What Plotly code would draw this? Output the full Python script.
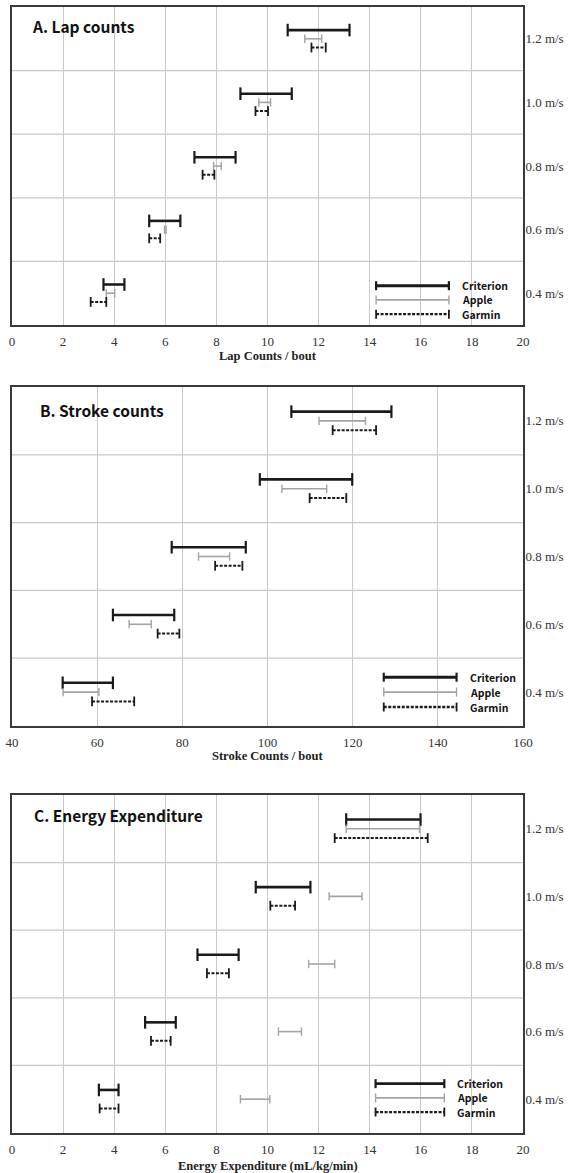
import plotly.graph_objects as go

# ---------------- data ----------------
speeds = ["0.4 m/s", "0.6 m/s", "0.8 m/s", "1.0 m/s", "1.2 m/s"]
series_names = ["Criterion", "Apple", "Garmin"]

# A. Lap counts (low / high ends of each range)
lap_criterion_low = [3.58, 5.37, 7.14, 8.94, 10.79]
lap_criterion_high = [4.40, 6.59, 8.75, 10.95, 13.21]
lap_apple_low = [3.69, 5.97, 7.89, 9.66, 11.46]
lap_apple_high = [4.02, 6.03, 8.19, 10.12, 12.12]
lap_garmin_low = [3.08, 5.37, 7.46, 9.53, 11.72]
lap_garmin_high = [3.69, 5.80, 7.92, 10.02, 12.28]

# B. Stroke counts
stroke_criterion_low = [51.9, 63.7, 77.5, 98.2, 105.6]
stroke_criterion_high = [63.7, 78.1, 94.9, 119.9, 129.1]
stroke_apple_low = [52.0, 67.5, 83.8, 103.4, 112.1]
stroke_apple_high = [60.4, 72.7, 91.1, 113.9, 123.0]
stroke_garmin_low = [58.8, 74.2, 87.7, 109.9, 115.3]
stroke_garmin_high = [68.7, 79.3, 94.1, 118.5, 125.5]

# C. Energy expenditure
ee_criterion_low = [3.40, 5.21, 7.26, 9.54, 13.08]
ee_criterion_high = [4.17, 6.41, 8.87, 11.68, 15.99]
ee_apple_low = [8.94, 10.43, 11.61, 12.41, 13.08]
ee_apple_high = [10.09, 11.33, 12.63, 13.70, 15.95]
ee_garmin_low = [3.43, 5.44, 7.63, 10.11, 12.63]
ee_garmin_high = [4.17, 6.21, 8.49, 11.08, 16.27]

panel_titles = ["A. Lap counts", "B. Stroke counts", "C. Energy Expenditure"]
axis_titles = ["Lap Counts / bout", "Stroke Counts / bout", "Energy Expenditure (mL/kg/min)"]
x_ranges = [[0, 20], [40, 160], [0, 20]]
x_dticks = [2, 20, 2]

panels = [
    [(lap_criterion_low, lap_criterion_high), (lap_apple_low, lap_apple_high), (lap_garmin_low, lap_garmin_high)],
    [(stroke_criterion_low, stroke_criterion_high), (stroke_apple_low, stroke_apple_high), (stroke_garmin_low, stroke_garmin_high)],
    [(ee_criterion_low, ee_criterion_high), (ee_apple_low, ee_apple_high), (ee_garmin_low, ee_garmin_high)],
]

# ---------------- styles / layout ----------------
W, H = 571, 1173
styles = {
    "Criterion": dict(color="#1a1a1a", width=2.6, dash="solid", cap=9, capw=2.2),
    "Apple": dict(color="#a3a3a3", width=1.6, dash="solid", cap=6, capw=1.4),
    "Garmin": dict(color="#1a1a1a", width=2.0, dash="3px,1.5px", cap=7, capw=1.8),
}
row_offset = {"Criterion": 0.137, "Apple": 0.0, "Garmin": -0.137}

# pixel layout of each panel frame (top, bottom)
frames_px = [(7, 325), (387, 726), (795, 1133)]
x_left_px, x_right_px = 12, 523

legend_pos = [
    dict(x0=14.25, x1=17.1, xt=17.55, ys=[0.118, -0.105, -0.33]),
    dict(x0=127.3, x1=144.4, xt=147.2, ys=[0.22, 0.0, -0.22]),
    dict(x0=14.23, x1=16.92, xt=17.35, ys=[0.23, 0.02, -0.19]),
]
title_pos_px = [(30, 26), (38, 410), (32, 815)]
axis_title_y_px = [356, 756, 1166]

grid_col = "#c9c9c9"
frame_col = "#3a3a3a"
serif = "Liberation Serif, Times New Roman, serif"
sans = "Noto Sans CJK KR, Noto Sans, sans-serif"


def px_x(v):
    return v / W


def px_y(v):
    return 1 - v / H


fig = go.Figure()
shapes = []
annotations = []

for p, series in enumerate(panels):
    xa = "x" if p == 0 else f"x{p+1}"
    ya = "y" if p == 0 else f"y{p+1}"
    for name, (lo, hi) in zip(series_names, series):
        st = styles[name]
        xs, ys = [], []
        for i in range(len(speeds)):
            yy = i + row_offset[name]
            xs += [lo[i], hi[i], None]
            ys += [yy, yy, None]
        fig.add_trace(go.Scatter(
            x=xs, y=ys, xaxis=xa, yaxis=ya, mode="lines+markers",
            line=dict(color=st["color"], width=st["width"], dash=st["dash"]),
            marker=dict(symbol="line-ns-open", size=st["cap"],
                        line=dict(color=st["color"], width=st["capw"])),
            showlegend=False, hoverinfo="skip", name=name,
        ))

    top, bot = frames_px[p]
    dom_y = [max(0, px_y(bot)), min(1, px_y(top))]
    dom_x = [px_x(x_left_px), px_x(x_right_px)]
    xkey = "xaxis" if p == 0 else f"xaxis{p+1}"
    ykey = "yaxis" if p == 0 else f"yaxis{p+1}"
    fig.update_layout(**{
        xkey: dict(domain=dom_x, anchor=ya, range=x_ranges[p], dtick=x_dticks[p], tick0=x_ranges[p][0],
                   showgrid=True, gridcolor=grid_col, gridwidth=1.3, zeroline=False,
                   showline=True, linecolor=frame_col, linewidth=1.6, mirror=True,
                   ticks="outside", ticklen=4, tickcolor="rgba(0,0,0,0)",
                   ticklabeloverflow="allow",
                   tickfont=dict(family=serif, size=13, color="#333"), automargin=False),
        ykey: dict(domain=dom_y, anchor=xa, range=[-0.5, 4.5], side="right",
                   tickvals=list(range(len(speeds))), ticktext=speeds,
                   showgrid=False, zeroline=False,
                   showline=True, linecolor=frame_col, linewidth=1.6, mirror=True,
                   ticks="", ticklabelstandoff=-2, ticklabeloverflow="allow",
                   tickfont=dict(family=serif, size=13, color="#333"), automargin=False),
    })

    # horizontal separators between speed bands
    for k in range(len(speeds) - 1):
        shapes.append(dict(type="line", xref=f"{xa} domain", yref=ya, x0=0, x1=1, y0=k + 0.5, y1=k + 0.5,
                           line=dict(color=grid_col, width=1.3), layer="below"))

    # legend
    lp = legend_pos[p]
    for name, yy in zip(series_names, lp["ys"]):
        st = styles[name]
        shapes.append(dict(type="line", xref=xa, yref=ya, x0=lp["x0"], x1=lp["x1"], y0=yy, y1=yy,
                           line=dict(color=st["color"], width=st["width"] + 0.3, dash=st["dash"])))
        for xe in (lp["x0"], lp["x1"]):
            shapes.append(dict(type="line", xref=xa, yref=ya, ysizemode="pixel", yanchor=yy,
                               x0=xe, x1=xe, y0=-4.5, y1=4.5,
                               line=dict(color=st["color"], width=st["capw"])))
        annotations.append(dict(x=lp["xt"], y=yy, xref=xa, yref=ya, text=f"<b>{name}</b>",
                                showarrow=False, xanchor="left", yanchor="middle",
                                font=dict(family=sans, size=10.5, color="#111")))

    # panel title
    tx, ty = title_pos_px[p]
    annotations.append(dict(x=px_x(tx), y=px_y(ty), xref="paper", yref="paper",
                            text=f"<b>{panel_titles[p]}</b>", showarrow=False,
                            xanchor="left", yanchor="middle",
                            font=dict(family=sans, size=15.5, color="#111")))
    # x-axis title
    annotations.append(dict(x=(dom_x[0] + dom_x[1]) / 2, y=px_y(axis_title_y_px[p]),
                            xref="paper", yref="paper", text=f"<b>{axis_titles[p]}</b>",
                            showarrow=False, xanchor="center", yanchor="middle",
                            font=dict(family=serif, size=12.5, color="#222")))

fig.update_layout(
    width=W, height=H, autosize=False,
    margin=dict(l=0, r=0, t=0, b=0),
    paper_bgcolor="white", plot_bgcolor="white",
    shapes=shapes, annotations=annotations, showlegend=False,
)

# remove the default 8px page margin so the figure fills the window exactly
fig.write_html("out.html", config={"displayModeBar": False},
               post_script="document.body.style.margin='0';document.body.style.overflow='hidden';")
